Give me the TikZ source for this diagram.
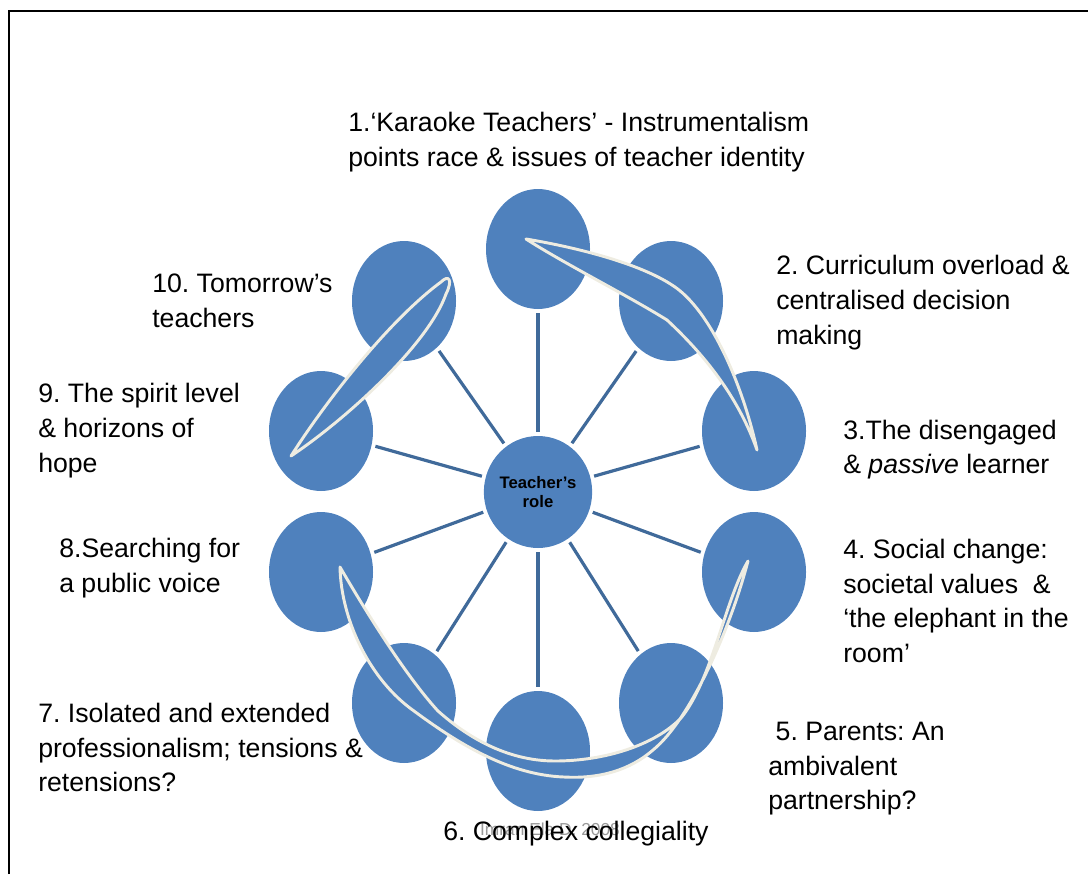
\documentclass[tikz,border=0pt]{standalone}
\usepackage{fontspec}
\setmainfont{Liberation Sans}
\usetikzlibrary{shapes.geometric}
\frenchspacing

\definecolor{bubbleblue}{RGB}{79,129,189}
\definecolor{spokeblue}{RGB}{64,106,154}
\definecolor{creamline}{RGB}{238,236,225}

\tikzset{%
bubble/.style={ellipse, fill=bubbleblue, minimum width=78pt, minimum height=90pt, inner sep=0pt, outer sep=3pt},
hubbubble/.style={bubble, minimum height=84pt, align=center, font=\bfseries\fontsize{12.5}{14.5}\selectfont},
spoke/.style={draw=spokeblue, line width=2.4pt},
lbl/.style={anchor=west, align=left, inner sep=0pt, font=\fontsize{20}{26}\selectfont},
crescent/.style={fill=bubbleblue, draw=creamline, line width=2.2pt, line join=round},
}

\begin{document}
\begin{tikzpicture}[%
x=0.75pt, y=-0.75pt,
]
\useasboundingbox (0,0) rectangle (1088,874);
%% frame;
\draw [line width=2pt] (9,874) -- (9,11) -- (1088,11);
%% hub;
\node [hubbubble] (hub) at (538,492) {Teacher’s\\role};
%% circles;
\node [bubble] (b1) at (538,249) {};
\node [bubble] (b2) at (671,301) {};
\node [bubble] (b3) at (754,431) {};
\node [bubble] (b4) at (754,572) {};
\node [bubble] (b5) at (671,703) {};
\node [bubble] (b6) at (538,751) {};
\node [bubble] (b7) at (404,703) {};
\node [bubble] (b8) at (321,572) {};
\node [bubble] (b9) at (321,431) {};
\node [bubble] (b10) at (404,301) {};
%% spokes;
\foreach \n in {1,...,10}
  \draw [spoke] (hub) -- (b\n);
%% crescent;
\filldraw [crescent] (526,239) .. controls (580,248) and (640,264) .. (672,285)
  .. controls (712,310) and (744,390) .. (757,450)
  .. controls (740,402) and (710,360) .. (667,320)
  .. controls (625,294) and (565,264) .. cycle;
%% crescent;
\filldraw [crescent] (291,456) .. controls (330,395) and (392,318) .. (441,282)
  .. controls (449,274) and (453,280) .. (446,294)
  .. controls (428,345) and (345,420) .. cycle;
%% crescent;
\filldraw [crescent] (340,567) .. controls (341,620) and (370,680) .. (414,711)
  .. controls (460,745) and (510,775) .. (564,777)
  .. controls (600,779) and (630,770) .. (653,750)
  .. controls (690,720) and (730,630) .. (748,561)
  .. controls (725,600) and (712,680) .. (681,718)
  .. controls (655,745) and (605,761) .. (555,761)
  .. controls (505,761) and (465,735) .. (438,711)
  .. controls (405,675) and (365,610) .. cycle;
%% labels;
\node [lbl] (l1) at (348,142) {1.‘Karaoke Teachers’ - Instrumentalism\\points race \& issues of teacher identity};
\node [lbl] (l2) at (776,302.7) {2. Curriculum overload \&\\centralised decision\\making};
\node [lbl] (l3) at (843,449.7) {3.The disengaged\\\& \textit{passive} learner};
\node [lbl] (l4) at (843,601) {4. Social change:\\societal values \ \&\\‘the elephant in the\\room’};
\node [lbl] (l5) at (768,768.7) {\ 5. Parents: An\\ambivalent\\partnership?};
\node [lbl] (l7) at (38,747.5) {7. Isolated and extended\\professionalism; tensions \&\\retensions?};
\node [lbl] (l8) at (59,568.2) {8.Searching for\\a public voice};
\node [lbl] (l9) at (38,430.7) {9. The spirit level\\\& horizons of\\hope};
\node [lbl] (l10) at (152,301) {10. Tomorrow’s\\teachers};
%% watermark;
\node [text=black!40, font=\fontsize{13}{15}\selectfont] (mark) at (550,829) {Imran Ela D. 2008};
\node [lbl] (l6) at (443,833.7) {6. Complex collegiality};
\end{tikzpicture}
\end{document}
